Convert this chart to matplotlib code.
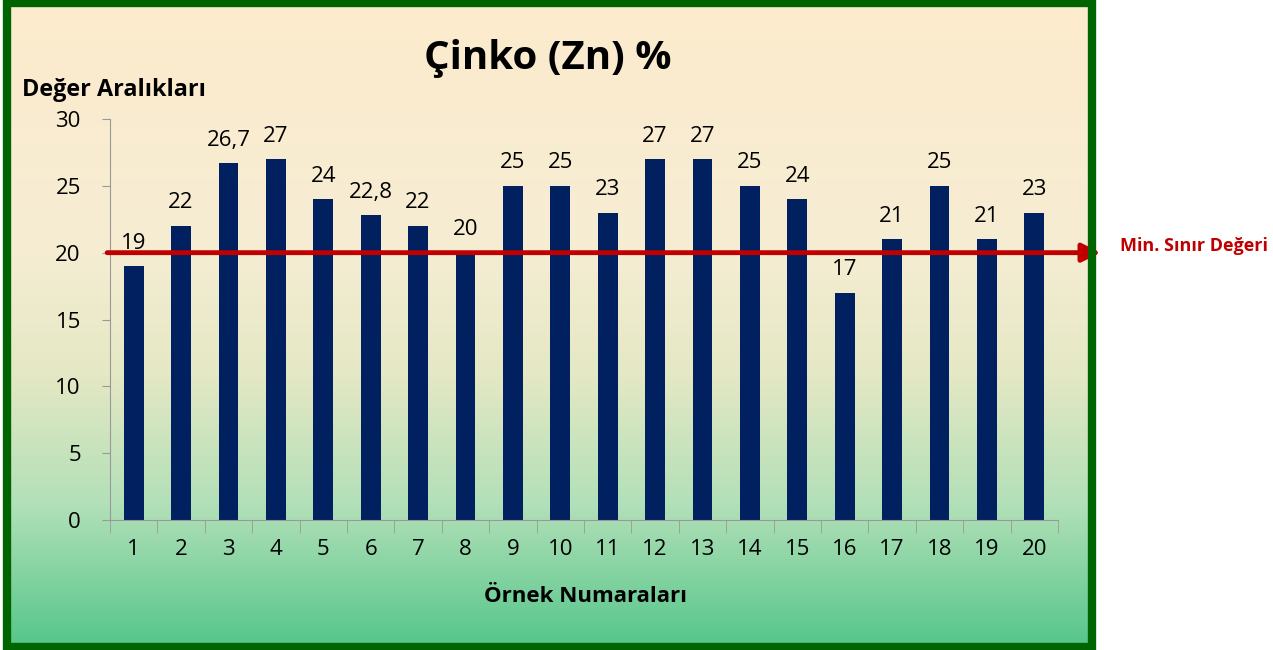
import numpy as np
import matplotlib.pyplot as plt
from matplotlib.colors import LinearSegmentedColormap
from matplotlib.patches import Rectangle

plt.rcParams['font.family'] = ['Open Sans', 'DejaVu Sans']

# data
samples = [str(i) for i in range(1, 21)]
values = [19, 22, 26.7, 27, 24, 22.8, 22, 20, 25, 25, 23, 27, 27, 25, 24, 17, 21, 25, 21, 23]
limit = 20
title = 'Çinko (Zn) %'
y_label = 'Değer Aralıkları'
x_label = 'Örnek Numaraları'
limit_label = 'Min. Sınır Değeri'

fig = plt.figure(figsize=(12.73, 6.5), dpi=100)
fig.patch.set_facecolor('white')

# background panel with vertical gradient
fl, fb, fr, ft = 7 / 1273, 3 / 650, 1092 / 1273, 647 / 650
bg = fig.add_axes([fl, fb, fr - fl, ft - fb])
cmap = LinearSegmentedColormap.from_list('bg', [
    (0.0, '#FDEBCD'), (0.38, '#F6EDD3'), (0.58, '#E4E8C4'),
    (0.78, '#B2E0B8'), (1.0, '#55C68A')])
grad = np.linspace(0, 1, 256).reshape(-1, 1)
bg.imshow(grad, aspect='auto', cmap=cmap, extent=[0, 1, 0, 1], origin='upper')
bg.set_xlim(0, 1)
bg.set_ylim(0, 1)
bg.axis('off')
fig.patches.append(Rectangle((fl, fb), fr - fl, ft - fb, transform=fig.transFigure,
                             fill=False, edgecolor='#006400', linewidth=6, zorder=5))

ax = fig.add_axes([110 / 1273, 130 / 650, 948 / 1273, 401 / 650])
ax.patch.set_alpha(0)
x = np.arange(len(samples))
ax.bar(x, values, width=0.42, color='#00205F', zorder=2)
ax.set_xlim(-0.5, len(samples) - 0.5)
ax.set_ylim(0, 30)
ax.set_yticks(range(0, 31, 5))
ax.set_xticks(x)
ax.set_xticklabels(samples)
ax.set_xticks(np.arange(-0.5, len(samples)), minor=True)
ax.tick_params(axis='x', which='major', length=0, pad=14, labelsize=16)
ax.tick_params(axis='x', which='minor', length=9, color='#999999', direction='out')
ax.tick_params(axis='y', length=6, color='#999999', pad=15, labelsize=16)
for s in ['top', 'right']:
    ax.spines[s].set_visible(False)
for s in ['left', 'bottom']:
    ax.spines[s].set_color('#999999')

for xi, v in zip(x, values):
    ax.annotate(str(v).replace('.', ','), (xi, v), xytext=(0, 9), textcoords='offset points',
                ha='center', va='bottom', fontsize=16)

# min limit arrow
tr = ax.get_yaxis_transform()
ax.annotate('', xy=(1.045, limit), xycoords=tr, xytext=(-0.003, limit), textcoords=tr,
            arrowprops=dict(arrowstyle='-|>,head_length=1.1,head_width=0.55',
                            color='#C00000', lw=3.5, shrinkA=0, shrinkB=0),
            annotation_clip=False, zorder=6)
fig.text(1120 / 1273, 1 - 246 / 650, limit_label, color='#C00000', fontsize=13,
         fontweight='bold', ha='left', va='center')

fig.text(548 / 1273, 1 - 58 / 650, title, fontsize=29, fontweight='bold', ha='center', va='center')
fig.text(22 / 1273, 1 - 90 / 650, y_label, fontsize=16.8, fontweight='bold', ha='left', va='center')
fig.text(586 / 1273, 1 - 597 / 650, x_label, fontsize=16, fontweight='bold', ha='center', va='center')

fig.savefig('out.png', dpi=100)
